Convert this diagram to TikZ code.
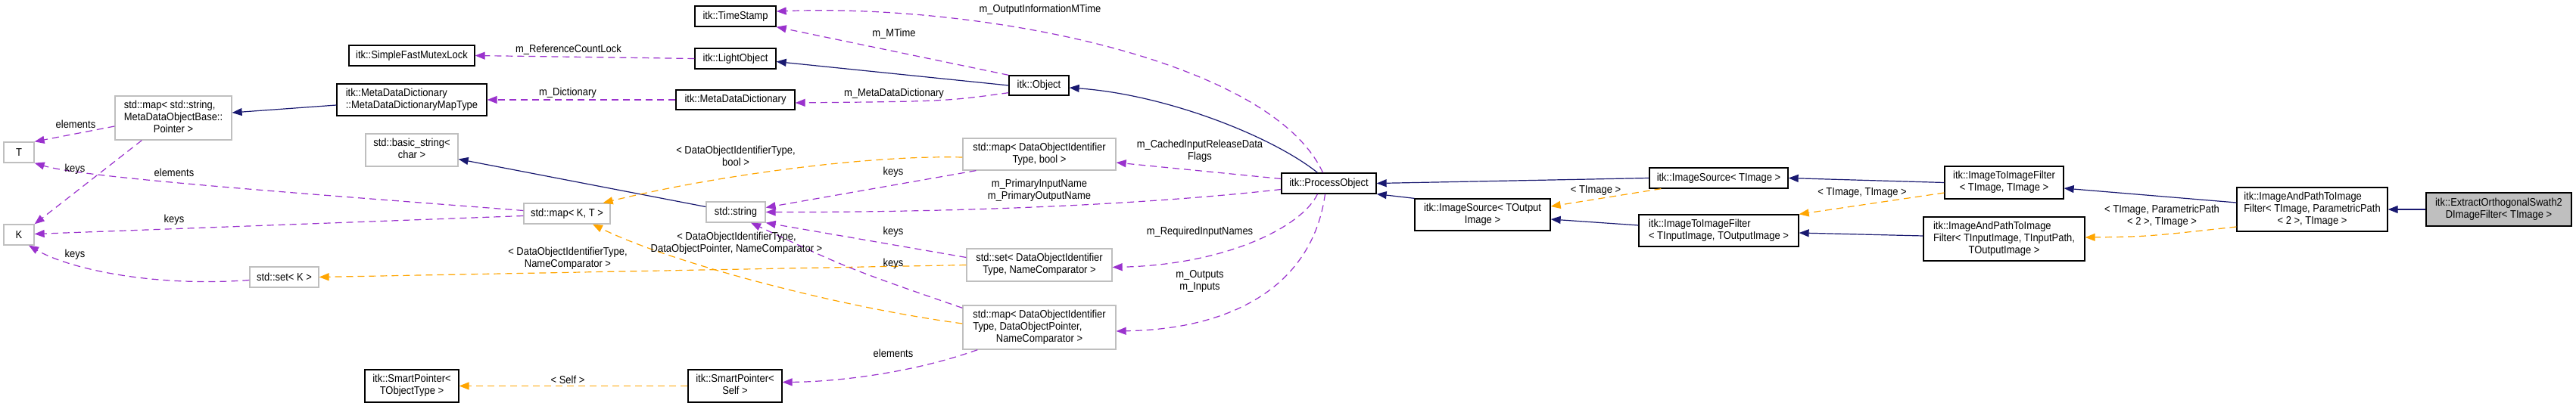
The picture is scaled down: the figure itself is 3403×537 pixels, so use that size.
\documentclass[tikz,border=0pt]{standalone}
\usepackage{fontspec}
\setmainfont[FakeStretch=0.9]{Liberation Sans}
\usetikzlibrary{arrows.meta}
\definecolor{inhc}{HTML}{191970}
\definecolor{usec}{HTML}{9A32CD}
\definecolor{tplc}{HTML}{FFA500}
\definecolor{grayb}{HTML}{BFBFBF}
\newcommand{\mlt}[1]{\begin{tabular}{@{}l@{}}#1\end{tabular}}
\newcommand{\mlc}[1]{\multicolumn{1}{@{}c@{}}{#1}}
\begin{document}
\begin{tikzpicture}[x=1pt,y=-1pt,
  every node/.style={font=\fontsize{14.4}{16}\selectfont},
  cls/.style n args={2}{draw=black,line width=1.3pt,fill=white,inner sep=1pt,minimum width=#1pt,minimum height=#2pt},
  ext/.style n args={2}{draw=grayb,line width=1.3pt,fill=white,inner sep=1pt,minimum width=#1pt,minimum height=#2pt},
  lbl/.style={inner sep=0pt,align=center},
  tip/.style={-{Triangle[length=13pt,width=10pt]}},
  inh/.style={draw=inhc,line width=1.2pt,tip},
  use/.style={draw=usec,line width=1.2pt,dash pattern=on 9pt off 6pt,tip},
  tpl/.style={draw=tplc,line width=1.2pt,dash pattern=on 9pt off 6pt,tip}]
\useasboundingbox (0,0) rectangle (3403,537);
% nodes
\node[cls={107}{27}] (ts) at (971.5,21.5) {itk::TimeStamp};
\node[cls={166}{27}] (sfml) at (544,73.5) {itk::SimpleFastMutexLock};
\node[cls={107}{27}] (lobj) at (971.5,77.5) {itk::LightObject};
\node[cls={198}{42}] (mt) at (544,132) {\mlt{itk::MetaDataDictionary\\::MetaDataDictionaryMapType}};
\node[cls={157}{26}] (mdd) at (971.5,132) {itk::MetaDataDictionary};
\node[cls={79}{26}] (obj) at (1372.5,113) {itk::Object};
\node[ext={154}{58}] (ms) at (229,156) {\mlt{std::map< std::string,\\MetaDataObjectBase::\\\mlc{Pointer >}}};
\node[ext={40}{27}] (t) at (25,201.5) {T};
\node[ext={122}{43}] (bs) at (544,198.5) {\mlt{std::basic\_string<\\\mlc{char >}}};
\node[ext={40}{27}] (k) at (25,310.5) {K};
\node[ext={202}{42}] (mdb) at (1373,204) {\mlt{std::map< DataObjectIdentifier\\\mlc{Type, bool >}}};
\node[cls={125}{27}] (po) at (1755.5,242.5) {itk::ProcessObject};
\node[ext={114}{27}] (mkt) at (749,282.5) {std::map< K, T >};
\node[ext={78}{27}] (str) at (972,280.5) {std::string};
\node[ext={192}{43}] (sd) at (1373,350.5) {\mlt{std::set< DataObjectIdentifier\\\mlc{Type, NameComparator >}}};
\node[ext={91}{27}] (sk) at (375.5,366.5) {std::set< K >};
\node[ext={202}{58}] (mdp) at (1373,433) {\mlt{std::map< DataObjectIdentifier\\Type, DataObjectPointer,\\\mlc{NameComparator >}}};
\node[cls={124}{43}] (spt) at (544,510.5) {\mlt{itk::SmartPointer<\\\mlc{TObjectType >}}};
\node[cls={124}{43}] (sps) at (971,510.5) {\mlt{itk::SmartPointer<\\\mlc{Self >}}};
\node[cls={183}{27}] (is) at (2270.5,235.5) {itk::ImageSource< TImage >};
\node[cls={179}{42}] (iso) at (1958.5,284) {\mlt{itk::ImageSource< TOutput\\\mlc{Image >}}};
\node[cls={211}{42}] (itf) at (2270.5,305) {\mlt{itk::ImageToImageFilter\\< TInputImage, TOutputImage >}};
\node[cls={157}{43}] (itt) at (2647.5,241.5) {\mlt{itk::ImageToImageFilter\\\mlc{< TImage, TImage >}}};
\node[cls={213}{58}] (iap) at (2647.5,316) {\mlt{itk::ImageAndPathToImage\\Filter< TInputImage, TInputPath,\\\mlc{TOutputImage >}}};
\node[cls={199}{58}] (iapt) at (3054.5,277) {\mlt{itk::ImageAndPathToImage\\Filter< TImage, ParametricPath\\\mlc{< 2 >, TImage >}}};
\node[cls={192}{44},fill=grayb] (ex) at (3301,277) {\mlt{itk::ExtractOrthogonalSwath2\\\mlc{DImageFilter< TImage >}}};
% edges
\draw[inh] (obj.west) -- ([yshift=-4pt]lobj.east);
\draw[use] (lobj.west) -- (sfml.east);
\draw[use] (obj.north west) -- (ts.south east);
\draw[use] ([xshift=-8pt]po.north) .. controls (1680,80) and (1300,5) .. ([yshift=6.5pt]ts.east);
\draw[use] ([yshift=4pt]obj.south west) .. controls (1250,134) .. ([yshift=-4pt]mdd.east);
\draw[use] (mdd.west) -- (mt.east);
\draw[inh] ([yshift=-7pt]mt.west) -- ([yshift=7pt]ms.east);
\draw[use] ([yshift=-11pt]ms.west) -- (t.north east);
\draw[use] ([xshift=36pt]ms.south west) -- (k.north east);
\draw[use] ([yshift=4pt]mkt.west) .. controls (400,256) and (110,235) .. (t.south east);
\draw[use] ([yshift=-3pt]mkt.west) -- ([yshift=1pt]k.east);
\draw[use] ([yshift=-4pt]sk.west) .. controls (200,380) and (90,355) .. ([xshift=13pt]k.south);
\draw[inh] ([yshift=7pt]str.west) -- ([yshift=-12pt]bs.east);
\draw[tpl] ([yshift=-4pt]mdb.west) .. controls (1150,205) and (950,231) .. ([xshift=-10pt]mkt.north east);
\draw[use] ([xshift=18pt]mdb.south west) -- ([yshift=6pt]str.east);
\draw[use] ([yshift=-8pt]po.west) .. controls (1500,272) and (1250,281) .. (str.east);
\draw[use] ([yshift=10pt]sd.west) -- (str.south east);
\draw[tpl] (sd.west) -- (sk.east);
\draw[use] ([yshift=-4pt]mdp.north west) .. controls (1120,355) .. ([xshift=20pt]str.south);
\draw[tpl] ([yshift=5pt]mdp.west) .. controls (1100,405) and (880,345) .. ([xshift=34pt]mkt.south);
\draw[use] ([xshift=20pt]mdp.south west) .. controls (1200,495) and (1100,505) .. ([yshift=5pt]sps.east);
\draw[tpl] (sps.west) -- (spt.east);
\draw[inh] ([xshift=-15pt]po.north) .. controls (1680,180) and (1540,125) .. ([yshift=-3pt]obj.east);
\draw[use] ([yshift=6pt]po.west) -- ([yshift=-11pt]mdb.east);
\draw[use] ([xshift=-15pt]po.south) .. controls (1720,300) and (1620,350) .. ([yshift=-3pt]sd.east);
\draw[use] ([xshift=-5pt]po.south) .. controls (1735,370) and (1640,435) .. ([yshift=-5pt]mdp.east);
\draw[inh] (is.west) -- (po.east);
\draw[inh] (iso.north west) -- (po.south east);
\draw[tpl] ([xshift=16pt]is.south west) -- ([yshift=11pt]iso.east);
\draw[inh] ([yshift=7pt]itf.west) -- ([yshift=-6pt]iso.east);
\draw[inh] (itt.west) -- (is.east);
\draw[tpl] ([yshift=-13.5pt]itt.west) -- (itf.north east);
\draw[inh] ([yshift=4pt]iap.west) -- ([yshift=-3pt]itf.east);
\draw[inh] ([yshift=9pt]iapt.west) -- ([yshift=-7.5pt]itt.east);
\draw[tpl] ([yshift=-23pt]iapt.west) .. controls (2836,313) .. ([yshift=2pt]iap.east);
\draw[inh] (ex.west) -- (iapt.east);
% labels
\node[lbl] (l1) at (751,66) {m\_ReferenceCountLock};
\node[lbl] (l2) at (1181,45) {m\_MTime};
\node[lbl] (l3) at (1374,13) {m\_OutputInformationMTime};
\node[lbl] (l4) at (1181,124) {m\_MetaDataDictionary};
\node[lbl] (l5) at (750,123) {m\_Dictionary};
\node[lbl] (l6) at (100,164) {elements};
\node[lbl] (l7) at (99,224) {keys};
\node[lbl] (l8) at (230,228) {elements};
\node[lbl] (l9) at (230,291) {keys};
\node[lbl] (l10) at (99,337) {keys};
\node[lbl] (l11) at (972,206) {< DataObjectIdentifierType,\\bool >};
\node[lbl] (l12) at (1180,228) {keys};
\node[lbl] (l13) at (1373,252) {m\_PrimaryInputName\\m\_PrimaryOutputName};
\node[lbl] (l14) at (1180,307) {keys};
\node[lbl] (l15) at (750,342) {< DataObjectIdentifierType,\\NameComparator >};
\node[lbl] (l16) at (1180,349) {keys};
\node[lbl] (l17) at (973,322) {< DataObjectIdentifierType,\\DataObjectPointer, NameComparator >};
\node[lbl] (l18) at (1180,467) {elements};
\node[lbl] (l19) at (750,502) {< Self >};
\node[lbl] (l20) at (1585,200) {m\_CachedInputReleaseData\\Flags};
\node[lbl] (l21) at (1585,307) {m\_RequiredInputNames};
\node[lbl] (l22) at (1585,372) {m\_Outputs\\m\_Inputs};
\node[lbl] (l23) at (2108,252) {< TImage >};
\node[lbl] (l24) at (2460,255) {< TImage, TImage >};
\node[lbl] (l25) at (2856,286) {< TImage, ParametricPath\\< 2 >, TImage >};
\end{tikzpicture}
\end{document}
